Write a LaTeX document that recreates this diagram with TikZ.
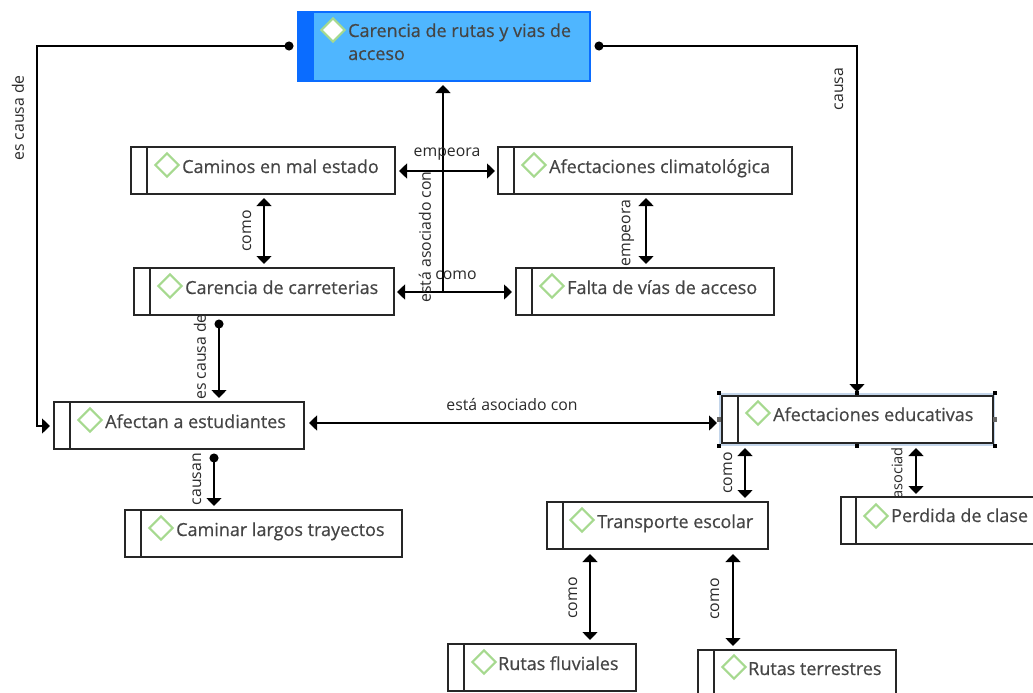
\documentclass[tikz,border=0pt]{standalone}
\usepackage{fontspec}
\setmainfont{Open Sans}
\newfontfamily\boxfont{Open Sans}[FakeBold=0.5]
\usetikzlibrary{arrows.meta,shapes.geometric,calc}
\definecolor{txt}{HTML}{454545}
\definecolor{lnk}{HTML}{2A2A2A}
\definecolor{dia}{HTML}{A6D98F}
\definecolor{mainfill}{HTML}{4FB6FF}
\definecolor{mainbar}{HTML}{0A6CFF}
\definecolor{selblue}{HTML}{C3D5EA}
\tikzset{
 cbox/.style={draw=black!85,line width=1.4pt,fill=white,inner sep=0pt,outer sep=0pt,anchor=north west},
 cbar/.style={draw=black!85,line width=1.4pt},
 ctext/.style={text=txt,font=\boxfont\fontsize{18}{23}\selectfont,anchor=base west,inner sep=0pt},
 cdia/.style={diamond,aspect=1,draw=dia,fill=white,line width=2.1pt,minimum width=24pt,minimum height=24pt,inner sep=0pt},
 clabel/.style={text=lnk,font=\fontsize{15.8}{18}\selectfont,inner sep=0pt},
 rlabel/.style={clabel,rotate=90},
 conn/.style={draw=black,line width=1.5pt},
 two/.style={conn,{Triangle[length=8pt,width=15pt]}-{Triangle[length=8pt,width=15pt]}},
 one/.style={conn,-{Triangle[length=8pt,width=15pt]}},
 dotone/.style={conn,{Circle[length=9pt]}-{Triangle[length=8pt,width=15pt]}},
 handle/.style={fill=black,inner sep=0pt,minimum size=4.5pt},
 ghandle/.style={fill=black!60,inner sep=0pt,minimum size=4.5pt},
}
% name, x1, y1, x2, y2, bar x, diamond x, diamond y, text position; then the node text
\newcommand\conceptbox[9]{%
 \node[cbox,minimum width={#4-#2},minimum height={#5-#3}] (#1) at (#2,#3) {};
 \coordinate (#1-bt) at (#6,#3);
 \coordinate (#1-bb) at (#6,#5);
 \draw[cbar] (#1-bt) -- (#1-bb);
 \node[cdia] (#1-d) at (#7,#8) {};
 \node[ctext] (#1-t) at (#9) }
\begin{document}
\begin{tikzpicture}[x=1pt,y=-1pt]
\useasboundingbox (0,0) rectangle (1033,693);
\clip (0,0) rectangle (1033,693);
\fill[white] (0,0) rectangle (1033,693);

% label that lies under boxes
\node[rlabel,anchor=west,font=\fontsize{14.6}{18}\selectfont] (l-asoc) at (897,499) {asociad};

% main node
\node[cbox,draw=mainbar,fill=mainfill,minimum width=292pt,minimum height=69pt] (main) at (298,12) {};
\fill[mainbar] (298,12) rectangle (314,81);
\node[cdia] (main-d) at (333,30) {};
\node[ctext] (main-t1) at (348,37) {Carencia de rutas y vias de};
\node[ctext] (main-t2) at (348,60) {acceso};

% selection frame
\node[cbox,draw=none,fill=selblue,minimum width=276pt,minimum height=53pt] (sel) at (719,393) {};

\conceptbox{caminos}{131}{147}{395}{194}{147}{167}{165}{182,173}{Caminos en mal estado};
\conceptbox{clima}{498}{147}{792}{194}{514}{534}{165}{549,173}{Afectaciones climatológica};
\conceptbox{carret}{134}{268}{394}{315}{150}{170}{286}{185,294}{Carencia de carreterias};
\conceptbox{falta}{516}{268}{774}{315}{532}{552}{286}{567,294}{Falta de vías de acceso};
\conceptbox{estud}{54}{402}{304}{449}{70}{90}{420}{105,428}{Afectan a estudiantes};
\conceptbox{caminar}{125}{510}{402}{557}{141}{161}{528}{176,536}{Caminar largos trayectos};
\conceptbox{educ}{722}{396}{993}{443}{738}{758}{413}{773,421}{Afectaciones educativas};
\conceptbox{perdida}{841}{497}{1040}{544}{856}{876}{516}{891,522}{Perdida de clase};
\conceptbox{transp}{547}{502}{768}{549}{563}{582}{520}{597,528}{Transporte escolar};
\conceptbox{fluv}{448}{644}{636}{691}{464}{484}{662}{498,670}{Rutas fluviales};
\conceptbox{terr}{698}{650}{896}{697}{714}{734}{667}{748,675}{Rutas terrestres};

% routing coordinates
\coordinate (r1) at (37,46);
\coordinate (r2) at (37,426);
\coordinate (r3) at (857,46);
\coordinate (x1) at (264,0);
\coordinate (x2) at (646,0);
\coordinate (x3) at (219,0);
\coordinate (x4) at (214,0);
\coordinate (x5) at (745,0);
\coordinate (x6) at (916,0);
\coordinate (x7) at (590,0);
\coordinate (x8) at (733,0);
\coordinate (x9) at (443,0);
\coordinate (y1) at (0,171);
\coordinate (y2) at (0,292);
\coordinate (y3) at (0,423);

% connectors
\draw[dotone,shorten <=4.5pt,shorten >=4pt] (main.west |- r1) -- (r1) -- (r2) -- (estud.west |- r2);
\draw[dotone,shorten <=4.5pt,shorten >=1pt] (main.east |- r3) -- (r3) -- (sel.north -| r3);
\draw[one,shorten >=4pt] (x9 |- y2) -- (main.south -| x9);
\draw[two,shorten <=4pt,shorten >=3pt] (caminos.east |- y1) -- (clima.west |- y1);
\draw[two,shorten <=3pt,shorten >=4pt] (carret.east |- y2) -- (falta.west |- y2);
\draw[two,shorten <=4pt,shorten >=4pt] (caminos.south -| x1) -- (carret.north -| x1);
\draw[two,shorten <=4pt,shorten >=4pt] (clima.south -| x2) -- (falta.north -| x2);
\draw[dotone,shorten <=4.5pt,shorten >=4pt] (carret.south -| x3) -- (estud.north -| x3);
\draw[dotone,shorten <=4.5pt,shorten >=4pt] (estud.south -| x4) -- (caminar.north -| x4);
\draw[two,shorten <=5pt,shorten >=2pt] (estud.east |- y3) -- (sel.west |- y3);
\draw[two,shorten <=5pt,shorten >=4pt] (educ.south -| x5) -- (transp.north -| x5);
\draw[two,shorten <=5pt,shorten >=3pt] (educ.south -| x6) -- (perdida.north -| x6);
\draw[two,shorten <=5pt,shorten >=4pt] (transp.south -| x7) -- (fluv.north -| x7);
\draw[two,shorten <=5pt,shorten >=4pt] (transp.south -| x8) -- (terr.north -| x8);

% selection handles
\node[handle] (h1) at (sel.north west) {};
\node[handle] (h2) at (sel.north) {};
\node[handle] (h3) at (sel.north east) {};
\node[ghandle] (h4) at (sel.west) {};
\node[ghandle] (h5) at (sel.east) {};
\node[handle] (h6) at (sel.south west) {};
\node[handle] (h7) at (sel.south) {};
\node[handle] (h8) at (sel.south east) {};

% connector labels
\node[rlabel] (l-escausa) at (18,118) {es causa de};
\node[rlabel] (l-causa) at (839,89) {causa};
\node[clabel] (l-emp1) at (447,154) {empeora};
\node[rlabel] (l-aso) at (425,237) {está asociado con};
\node[clabel] (l-como1) at (456,275) {como};
\node[rlabel] (l-como2) at (247,231) {como};
\node[rlabel] (l-emp2) at (628,233) {empeora};
\node[rlabel] (l-ecd) at (200,357) {es causa de};
\node[rlabel] (l-causan) at (197,479) {causan};
\node[clabel] (l-aso2) at (512,405) {está asociado con};
\node[rlabel] (l-como3) at (728,473) {como};
\node[rlabel] (l-como4) at (573,598) {como};
\node[rlabel] (l-como5) at (715,599) {como};
\end{tikzpicture}
\end{document}
